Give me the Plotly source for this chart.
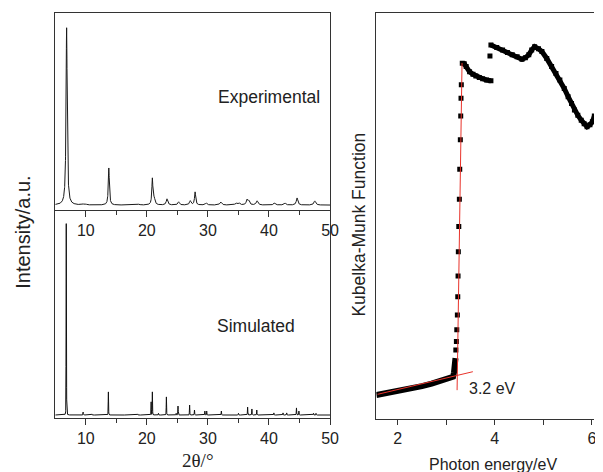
import numpy as np
import plotly.graph_objects as go

# ---------------- data ----------------
# XRD: experimental peak list (2theta, height above baseline, fwhm)
exp_pos = [6.86, 9.5, 10.0, 13.77, 18.7, 20.9, 21.2, 23.3, 25.2, 27.1, 27.9, 29.7, 32.1, 34.6, 35.1,
           36.4, 36.7, 38.05, 40.9, 42.6, 44.6, 47.5]
exp_h = [90.0, 0.5, 0.4, 18.8, 0.4, 13.2, 3.0, 3.1, 1.6, 2.1, 6.6, 1.0, 1.6, 1.0, 1.0,
         2.6, 2.0, 2.1, 1.0, 1.0, 3.6, 2.1]
exp_w = [0.22, 0.3, 0.3, 0.2, 0.3, 0.2, 0.3, 0.3, 0.3, 0.3, 0.22, 0.35, 0.35, 0.35, 0.35,
         0.3, 0.3, 0.35, 0.35, 0.35, 0.3, 0.35]
exp_base = 2.5

# simulated peak list
sim_pos = [6.8, 9.56, 11.0, 13.7, 18.5, 20.7, 20.9, 21.9, 23.2, 24.8, 25.1, 27.0, 27.8, 29.5, 29.8,
           32.2, 35.0, 36.5, 37.2, 38.0, 40.8, 42.3, 42.9, 44.5, 44.9, 47.3, 47.7]
sim_h = [92.0, 1.4, 0.5, 11.1, 0.5, 6.3, 11.1, 0.8, 8.7, 0.8, 4.3, 4.8, 2.4, 1.9, 1.9,
         1.9, 0.8, 3.8, 2.9, 2.4, 1.0, 1.0, 1.0, 3.4, 1.9, 0.8, 0.8]
sim_base = 1.44

# Kubelka-Munk data (photon energy in eV, KM in a.u.)
km_low_x = [1.56, 1.7, 1.9, 2.1, 2.3, 2.5, 2.7, 2.9, 3.0, 3.1, 3.14, 3.16, 3.18, 3.19]
km_low_y = [5.9, 6.2, 6.6, 7.0, 7.5, 8.1, 8.7, 9.3, 9.6, 10.0, 10.4, 11.5, 13.0, 15.0]
km_edge_x = [3.197, 3.209, 3.217, 3.229, 3.237, 3.243, 3.249, 3.258, 3.270, 3.278, 3.290, 3.298, 3.304, 3.310]
km_edge_y = [17.0, 19.1, 22.0, 25.6, 30.1, 35.2, 41.2, 47.4, 54.1, 61.5, 68.8, 74.6, 79.0, 82.3]
km_s1_x = [3.33, 3.37, 3.41, 3.48, 3.55, 3.61, 3.68, 3.75, 3.83, 3.92]
km_s1_y = [87.6, 87.5, 86.8, 85.5, 84.9, 84.5, 84.1, 83.8, 83.5, 83.3]
km_iso_x = [3.90]
km_iso_y = [89.4]
km_s2_x = [3.92, 4.04, 4.16, 4.26, 4.36, 4.46, 4.56, 4.63, 4.70, 4.76, 4.82, 4.90, 4.97, 5.07, 5.17,
           5.26, 5.34, 5.43, 5.51, 5.58, 5.64, 5.71, 5.78, 5.84, 5.90, 5.96, 6.01, 6.05]
km_s2_y = [92.1, 91.5, 90.9, 90.3, 89.7, 89.2, 88.6, 89.0, 89.7, 90.9, 91.7, 91.2, 90.5, 88.8, 86.8,
           85.1, 83.5, 81.4, 79.4, 77.7, 76.1, 74.8, 73.6, 72.7, 72.0, 72.5, 73.2, 74.6]
fit_edge_x = [3.223, 3.325]
fit_edge_y = [7.1, 87.7]
fit_base_x = [1.586, 3.548]
fit_base_y = [6.08, 11.65]
gap_label = "3.2 eV"

# ---------------- profiles ----------------
tt = np.arange(5.0, 50.001, 0.01)


def lorentz(x, p, h, w):
    g = w / 2.0
    return h * g * g / ((x - p) ** 2 + g * g)


def pvoigt(x, p, h, w, eta=0.12):
    s = w / 2.3548
    return h * ((1 - eta) * np.exp(-0.5 * ((x - p) / s) ** 2) + eta * (w / 2) ** 2 / ((x - p) ** 2 + (w / 2) ** 2))


y_exp = np.full_like(tt, exp_base)
for p, h, w in zip(exp_pos, exp_h, exp_w):
    y_exp += lorentz(tt, p, h, w)

y_sim = np.full_like(tt, sim_base)
for p, h in zip(sim_pos, sim_h):
    y_sim += pvoigt(tt, p, h, 0.07)

# ---------------- figure ----------------
# page has an 8px body margin: figure spans page pixels 8..603 x 8..472
OFF = 8
W, H = 603 - OFF, 472 - OFF


def px(x):
    return (x - OFF) / W


def py(y):
    return 1 - (y - OFF) / H


FONT = "Liberation Sans, Arial, sans-serif"
fig = go.Figure()

fig.add_trace(go.Scatter(x=tt, y=y_exp, mode="lines", line=dict(color="#1a1a1a", width=1),
                         xaxis="x", yaxis="y", showlegend=False))
fig.add_trace(go.Scatter(x=tt, y=y_sim, mode="lines", line=dict(color="#111111", width=1),
                         xaxis="x2", yaxis="y2", showlegend=False))

# KM traces
fig.add_trace(go.Scatter(x=km_low_x, y=km_low_y, mode="lines", line=dict(color="black", width=6),
                         xaxis="x3", yaxis="y3", showlegend=False))
fig.add_trace(go.Scatter(x=km_edge_x, y=km_edge_y, mode="markers",
                         marker=dict(symbol="square", size=5, color="black"),
                         xaxis="x3", yaxis="y3", showlegend=False))
for xs, ys in [(km_s1_x, km_s1_y), (km_s2_x, km_s2_y)]:
    fig.add_trace(go.Scatter(x=xs, y=ys, mode="lines+markers", line=dict(color="black", width=5),
                             marker=dict(symbol="square", size=5, color="black"),
                             xaxis="x3", yaxis="y3", showlegend=False))
fig.add_trace(go.Scatter(x=km_iso_x, y=km_iso_y, mode="markers",
                         marker=dict(symbol="square", size=5, color="black"),
                         xaxis="x3", yaxis="y3", showlegend=False))
for xs, ys in [(fit_edge_x, fit_edge_y), (fit_base_x, fit_base_y)]:
    fig.add_trace(go.Scatter(x=xs, y=ys, mode="lines", line=dict(color="#e8322a", width=1),
                             xaxis="x3", yaxis="y3", showlegend=False))

tickfont = dict(family=FONT, size=16, color="#222")
xcommon = dict(showline=True, linecolor="#333", linewidth=1, ticks="outside", ticklen=6,
               tickcolor="#333", tickfont=tickfont, showgrid=False, zeroline=False,
               tickvals=[10, 20, 30, 40, 50], ticktext=["10", "20", "30", "40", "50"],
               minor=dict(tickvals=[15, 25, 35, 45], ticks="outside", ticklen=4, tickcolor="#333"),
               range=[5, 50])
ycommon = dict(showline=True, linecolor="#333", linewidth=1, mirror=True, ticks="",
               showticklabels=False, showgrid=False, zeroline=False, range=[0, 100])

fig.update_layout(
    width=W, height=H, margin=dict(l=0, r=0, t=0, b=0),
    paper_bgcolor="white", plot_bgcolor="white",
    xaxis=dict(domain=[px(56), px(335)], anchor="y", mirror=True, **xcommon),
    yaxis=dict(domain=[py(210), py(13)], anchor="x", **ycommon),
    xaxis2=dict(domain=[px(56), px(335)], anchor="y2", **xcommon),
    yaxis2=dict(domain=[py(418), py(210)], anchor="x2", **ycommon),
    xaxis3=dict(domain=[px(382), 1.0], anchor="y3", range=[1.56, 6.043], showline=True,
                linecolor="#333", linewidth=1, mirror=True, ticks="outside", ticklen=5,
                tickcolor="#333", tickfont=tickfont, showgrid=False, zeroline=False,
                tickvals=[2, 4, 6], ticktext=["2", "4", "6"],
                minor=dict(tickvals=[3, 5], ticks="outside", ticklen=5, tickcolor="#333")),
    yaxis3=dict(domain=[py(419), py(13)], anchor="x3", range=[0, 100], showline=True,
                linecolor="#333", linewidth=1, mirror=False, ticks="", showticklabels=False,
                showgrid=False, zeroline=False),
    showlegend=False,
)

ann = dict(showarrow=False, xanchor="center", yanchor="middle")
fig.add_annotation(text="Experimental", x=40.07, y=57.5, xref="x", yref="y",
                   font=dict(family=FONT, size=17.5, color="#222"), **ann)
fig.add_annotation(text="Simulated", x=37.9, y=44.2, xref="x2", yref="y2",
                   font=dict(family=FONT, size=17.5, color="#222"), **ann)
fig.add_annotation(text=gap_label, x=3.426, y=7.4, xref="x3", yref="y3", showarrow=False,
                   xanchor="left", yanchor="middle", font=dict(family=FONT, size=16, color="#222"))

fig.add_annotation(text="Intensity/a.u.", x=px(23), y=py(232), xref="paper", yref="paper",
                   textangle=-90, font=dict(family=FONT, size=20, color="#222"), **ann)
fig.add_annotation(text="Kubelka-Munk Function", x=px(364), y=py(225), xref="paper", yref="paper",
                   textangle=-90, font=dict(family=FONT, size=17.5, color="#222"), **ann)
fig.add_annotation(text="2θ/°", x=px(200), y=py(460), xref="paper", yref="paper",
                   font=dict(family="Liberation Serif, Times New Roman, serif", size=19, color="#222"), **ann)
fig.add_annotation(text="Photon energy/eV", x=px(500), y=py(464), xref="paper", yref="paper",
                   font=dict(family=FONT, size=16, color="#222"), **ann)

fig.write_html("out.html")
